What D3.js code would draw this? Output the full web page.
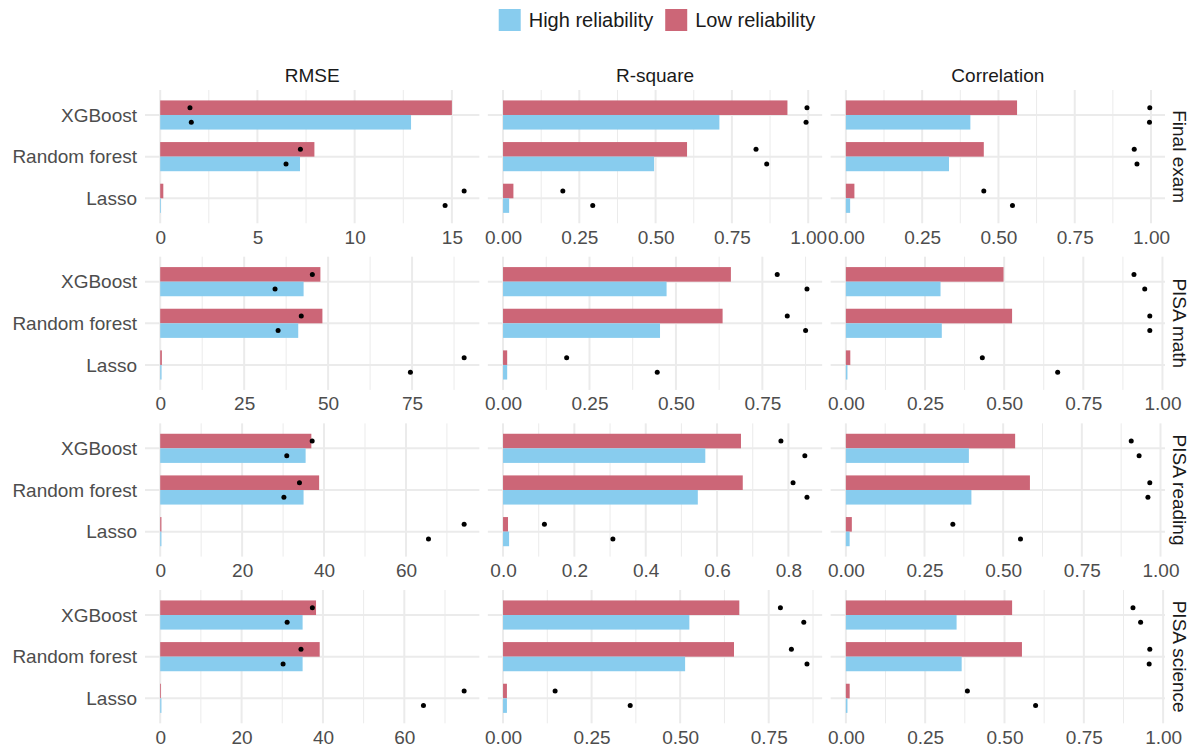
<!DOCTYPE html>
<html>
<head>
<meta charset="utf-8">
<script src="https://cdn.jsdelivr.net/npm/d3@7"></script>
<style>
  body { margin: 0; background: #fff; }
  svg { display: block; font-family: "Liberation Sans", Arial, sans-serif; }
</style>
</head>
<body>
<svg id="chart" width="1192" height="749"></svg>
<script>
'use strict';

// categories
const models = ['XGBoost', 'Random forest', 'Lasso'];
const metrics = ['RMSE', 'R-square', 'Correlation'];
const outcomes = ['Final exam', 'PISA math', 'PISA reading', 'PISA science'];
const groups = ['High reliability', 'Low reliability'];
const palette = { 'High reliability': '#88CCEE', 'Low reliability': '#CC6677' };

// values indexed [outcome][metric][model]
const barsHigh = [
  [[12.9, 7.19, 0.04], [0.709, 0.495, 0.020], [0.408, 0.338, 0.014]],
  [[42.7, 41.1, 0.4], [0.473, 0.454, 0.012], [0.299, 0.303, 0.005]],
  [[35.5, 35.0, 0.3], [0.567, 0.546, 0.017], [0.391, 0.399, 0.012]],
  [[35.0, 35.0, 0.3], [0.526, 0.514, 0.011], [0.349, 0.365, 0.005]]
];
const barsLow = [
  [[15.0, 7.93, 0.16], [0.932, 0.603, 0.034], [0.561, 0.452, 0.028]],
  [[47.7, 48.3, 0.5], [0.659, 0.635, 0.012], [0.498, 0.525, 0.014]],
  [[36.9, 38.8, 0.3], [0.667, 0.672, 0.014], [0.538, 0.585, 0.019]],
  [[38.3, 39.2, 0.2], [0.667, 0.652, 0.011], [0.524, 0.555, 0.012]]
];
const dotsHigh = [
  [[1.6, 6.47, 14.65], [0.993, 0.864, 0.294], [0.995, 0.954, 0.546]],
  [[34.2, 35.1, 74.5], [0.879, 0.875, 0.446], [0.944, 0.960, 0.669]],
  [[30.9, 30.2, 65.5], [0.846, 0.852, 0.308], [0.932, 0.960, 0.555]],
  [[31.2, 30.2, 64.7], [0.849, 0.858, 0.359], [0.929, 0.956, 0.598]]
];
const dotsLow = [
  [[1.53, 7.21, 15.63], [0.996, 0.829, 0.196], [0.996, 0.945, 0.452]],
  [[45.3, 42.0, 90.5], [0.793, 0.822, 0.184], [0.910, 0.960, 0.431]],
  [[37.1, 34.0, 74.2], [0.779, 0.813, 0.116], [0.907, 0.966, 0.340]],
  [[37.4, 34.6, 74.7], [0.783, 0.814, 0.147], [0.905, 0.958, 0.383]]
];

// x breaks per panel [outcome][metric]
const xBreaks = [
  [[0, 5, 10, 15], [0, 0.25, 0.5, 0.75, 1], [0, 0.25, 0.5, 0.75, 1]],
  [[0, 25, 50, 75], [0, 0.25, 0.5, 0.75], [0, 0.25, 0.5, 0.75, 1]],
  [[0, 20, 40, 60], [0, 0.2, 0.4, 0.6, 0.8], [0, 0.25, 0.5, 0.75, 1]],
  [[0, 20, 40, 60], [0, 0.25, 0.5, 0.75], [0, 0.25, 0.5, 0.75, 1]]
];

const svg = d3.select('#chart');
const fontSize = 19;
const gridColor = '#ebebeb';

// panel layout
const plotLeft = 145, plotRight = 1165, colGap = 8.5;
const plotTop = 90, plotBottom = 723.3, rowGap = 33.4;
const panelW = (plotRight - plotLeft - 2 * colGap) / 3;
const panelH = (plotBottom - plotTop - 3 * rowGap) / 4;

const y = d3.scalePoint().domain(models).range([0, panelH]).padding(0.6);
const step = y.step();
const dodge = 0.35 * step;

outcomes.forEach((outcome, r) => {
  metrics.forEach((metric, c) => {
    const px = plotLeft + c * (panelW + colGap);
    const py = plotTop + r * (panelH + rowGap);
    const g = svg.append('g').attr('transform', `translate(${px},${py})`);

    // free x scale with 5% expansion, like ggplot
    const maxVal = d3.max([barsHigh, barsLow, dotsHigh, dotsLow], arr => d3.max(arr[r][c]));
    const pad = 0.05 * maxVal;
    const x = d3.scaleLinear().domain([-pad, maxVal + pad]).range([0, panelW]);

    const breaks = xBreaks[r][c];
    const brStep = breaks[1] - breaks[0];
    const minor = d3.range(breaks.length + 1)
      .map(i => breaks[0] + (i - 0.5) * brStep)
      .filter(v => v >= x.domain()[0] && v <= x.domain()[1]);

    //Minor grid
    g.selectAll('.minor').data(minor).join('line')
      .attr('x1', d => x(d)).attr('x2', d => x(d))
      .attr('y1', 0).attr('y2', panelH)
      .attr('stroke', gridColor).attr('stroke-width', 1);

    //Major grid
    g.selectAll('.major').data(breaks).join('line')
      .attr('x1', d => x(d)).attr('x2', d => x(d))
      .attr('y1', 0).attr('y2', panelH)
      .attr('stroke', gridColor).attr('stroke-width', 2);

    g.selectAll('.hgrid').data(models).join('line')
      .attr('x1', 0).attr('x2', panelW)
      .attr('y1', d => y(d)).attr('y2', d => y(d))
      .attr('stroke', gridColor).attr('stroke-width', 2);

    // bars: low reliability on top, high below
    const rows = models.map((m, i) => ({
      model: m,
      high: barsHigh[r][c][i], low: barsLow[r][c][i],
      highDot: dotsHigh[r][c][i], lowDot: dotsLow[r][c][i]
    }));

    g.selectAll('.barLow').data(rows).join('rect')
      .attr('x', x(0))
      .attr('y', d => y(d.model) - dodge)
      .attr('width', d => x(d.low) - x(0))
      .attr('height', dodge)
      .attr('fill', palette['Low reliability']);

    g.selectAll('.barHigh').data(rows).join('rect')
      .attr('x', x(0))
      .attr('y', d => y(d.model))
      .attr('width', d => x(d.high) - x(0))
      .attr('height', dodge)
      .attr('fill', palette['High reliability']);

    g.selectAll('.dotLow').data(rows).join('circle')
      .attr('cx', d => x(d.lowDot))
      .attr('cy', d => y(d.model) - dodge / 2)
      .attr('r', 2.5).attr('fill', '#000');

    g.selectAll('.dotHigh').data(rows).join('circle')
      .attr('cx', d => x(d.highDot))
      .attr('cy', d => y(d.model) + dodge / 2)
      .attr('r', 2.5).attr('fill', '#000');

    //X axis labels, same number of decimals for all breaks
    const decimals = (String(brStep).split('.')[1] || '').length;
    const fmt = d3.format('.' + decimals + 'f');
    const xAxis = g.append('g')
      .attr('transform', `translate(0,${panelH})`)
      .call(d3.axisBottom(x).tickValues(breaks).tickSize(0).tickPadding(7).tickFormat(fmt));
    xAxis.select('.domain').remove();
    xAxis.attr('font-family', null);
    xAxis.selectAll('text').attr('font-size', fontSize).attr('fill', '#4d4d4d');

    //Y axis labels on first column
    if (c === 0) {
      const yAxis = g.append('g').call(d3.axisLeft(y).tickSize(0).tickPadding(8));
      yAxis.select('.domain').remove();
      yAxis.attr('font-family', null);
      yAxis.selectAll('text').attr('font-size', fontSize).attr('fill', '#4d4d4d');
    }

    //Strips
    if (r === 0) {
      svg.append('text')
        .attr('x', px + panelW / 2).attr('y', py - 8)
        .attr('text-anchor', 'middle')
        .attr('font-size', fontSize).attr('fill', '#1a1a1a')
        .text(metric);
    }
    if (c === 2) {
      svg.append('text')
        .attr('transform', `translate(${px + panelW + 8},${py + panelH / 2}) rotate(90)`)
        .attr('text-anchor', 'middle')
        .attr('font-size', fontSize).attr('fill', '#1a1a1a')
        .text(outcome);
    }
  });
});

//Legend
const legend = svg.append('g');
const keySize = 22;
let lx = 0;
groups.forEach(grp => {
  const item = legend.append('g').attr('transform', `translate(${lx},0)`);
  item.append('rect')
    .attr('width', keySize).attr('height', keySize)
    .attr('fill', palette[grp]);
  const t = item.append('text')
    .attr('x', keySize + 8).attr('y', keySize / 2)
    .attr('dy', '0.35em')
    .attr('font-size', 20).attr('fill', '#1a1a1a')
    .text(grp);
  lx += keySize + 8 + t.node().getComputedTextLength() + 12;
});
const legendW = lx - 12;
legend.attr('transform', `translate(${657 - legendW / 2},9)`);
</script>
</body>
</html>
